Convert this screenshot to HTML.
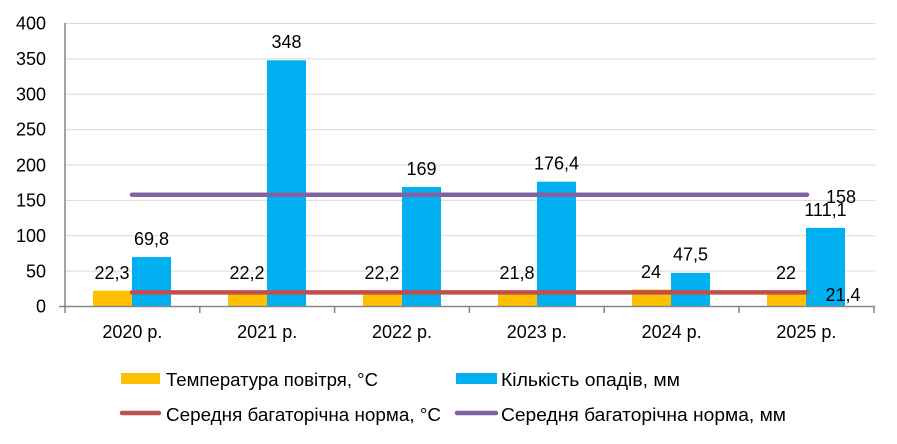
<!DOCTYPE html>
<html><head><meta charset="utf-8"><style>
html,body{margin:0;padding:0;background:#fff;}
svg{display:block;font-family:"Liberation Sans","DejaVu Sans",sans-serif;}
</style></head><body>
<svg width="897" height="444" viewBox="0 0 897 444" xmlns="http://www.w3.org/2000/svg">
<g stroke="#d9d9d9" stroke-width="1">
<line x1="65" y1="23.5" x2="875" y2="23.5"/>
<line x1="65" y1="58.9" x2="875" y2="58.9"/>
<line x1="65" y1="94.3" x2="875" y2="94.3"/>
<line x1="65" y1="129.6" x2="875" y2="129.6"/>
<line x1="65" y1="165" x2="875" y2="165"/>
<line x1="65" y1="200.4" x2="875" y2="200.4"/>
<line x1="65" y1="235.8" x2="875" y2="235.8"/>
<line x1="65" y1="271.1" x2="875" y2="271.1"/>
</g>
<g font-size="18" fill="#000" text-anchor="end">
<text x="46" y="29.5">400</text><text x="46" y="65">350</text><text x="46" y="100.5">300</text>
<text x="46" y="135.5">250</text><text x="46" y="171.5">200</text><text x="46" y="206.5">150</text>
<text x="46" y="242">100</text><text x="46" y="277.5">50</text><text x="46" y="312.5">0</text>
</g>
<g fill="#ffc000">
<rect x="93" y="290.7" width="39" height="15.8"/>
<rect x="228" y="290.8" width="39" height="15.7"/>
<rect x="363" y="290.8" width="39" height="15.7"/>
<rect x="498" y="291.1" width="39" height="15.4"/>
<rect x="632" y="289.5" width="39" height="17"/>
<rect x="767" y="290.9" width="39" height="15.6"/>
</g>
<g fill="#00b0f0">
<rect x="132" y="257.1" width="39" height="49.4"/>
<rect x="267" y="60.3" width="39" height="246.2"/>
<rect x="402" y="187" width="39" height="119.5"/>
<rect x="537" y="181.7" width="39" height="124.8"/>
<rect x="671" y="272.9" width="39" height="33.6"/>
<rect x="806" y="227.9" width="39" height="78.6"/>
</g>
<g stroke="#868686" stroke-width="1.5">
<line x1="65" y1="23" x2="65" y2="307"/>
<line x1="59" y1="306.5" x2="875" y2="306.5"/>
<line x1="65" y1="306.5" x2="65" y2="313"/><line x1="199.8" y1="306.5" x2="199.8" y2="313"/>
<line x1="334.6" y1="306.5" x2="334.6" y2="313"/><line x1="469.4" y1="306.5" x2="469.4" y2="313"/>
<line x1="604.2" y1="306.5" x2="604.2" y2="313"/><line x1="739" y1="306.5" x2="739" y2="313"/>
<line x1="874" y1="306.5" x2="874" y2="313"/>
</g>
<line x1="132" y1="292.4" x2="807" y2="292.4" stroke="#c0504d" stroke-width="4.5" stroke-linecap="round"/>
<line x1="132" y1="194.7" x2="807" y2="194.7" stroke="#8064a2" stroke-width="4.5" stroke-linecap="round"/>
<g font-size="18" fill="#000" text-anchor="middle">
<text x="112" y="279">22,3</text><text x="151.5" y="245">69,8</text>
<text x="247" y="279">22,2</text><text x="286.5" y="48">348</text>
<text x="382" y="279">22,2</text><text x="421.5" y="175">169</text>
<text x="517" y="279">21,8</text><text x="556.5" y="169.5">176,4</text>
<text x="651" y="278">24</text><text x="690.5" y="260.5">47,5</text>
<text x="786" y="279">22</text><text x="825.5" y="216">111,1</text>
<text x="841" y="203">158</text><text x="843" y="301">21,4</text>
</g>
<g font-size="18" fill="#000" text-anchor="middle">
<text x="132.4" y="338">2020 р.</text><text x="267.2" y="338">2021 р.</text>
<text x="402" y="338">2022 р.</text><text x="536.8" y="338">2023 р.</text>
<text x="671.6" y="338">2024 р.</text><text x="806.4" y="338">2025 р.</text>
</g>
<rect x="121" y="373" width="39" height="11" fill="#ffc000"/>
<rect x="456" y="373" width="41" height="11" fill="#00b0f0"/>
<line x1="122" y1="413" x2="159" y2="413" stroke="#c0504d" stroke-width="4.5" stroke-linecap="round"/>
<line x1="457" y1="413" x2="496" y2="413" stroke="#8064a2" stroke-width="4.5" stroke-linecap="round"/>
<g font-size="18" fill="#000">
<text x="166" y="386" textLength="212" lengthAdjust="spacingAndGlyphs">Температура повітря, °С</text>
<text x="501" y="386" textLength="179" lengthAdjust="spacingAndGlyphs">Кількість опадів, мм</text>
<text x="166" y="421" textLength="275" lengthAdjust="spacingAndGlyphs">Середня багаторічна норма, °С</text>
<text x="501" y="421" textLength="285" lengthAdjust="spacingAndGlyphs">Середня багаторічна норма, мм</text>
</g>
</svg>
</body></html>
